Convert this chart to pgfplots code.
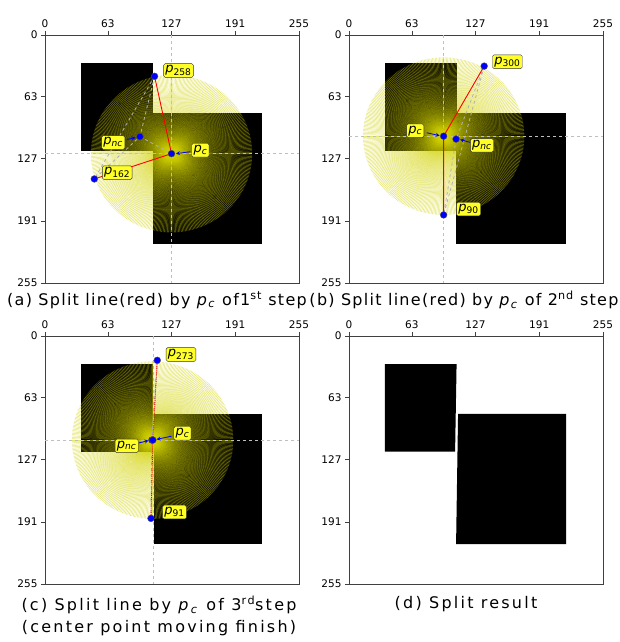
\documentclass[border=0pt]{standalone}
\usepackage{pgfplots}
\pgfplotsset{compat=1.18}
\usepackage{fontspec}
\setmainfont{DejaVu Sans}
\newfontfamily\capfont[LetterSpace=8]{DejaVu Sans}
\newfontfamily\capfontw[LetterSpace=14]{DejaVu Sans}
\definecolor{raycol}{rgb}{0.82,0.82,0.0}
\definecolor{labyel}{rgb}{1.0,1.0,0.15}
\definecolor{ptblue}{rgb}{0.0,0.0,1.0}
\pgfplotsset{panel/.style={
  width=254pt,height=248pt,scale only axis,
  xmin=0,xmax=255,ymin=0,ymax=255,y dir=reverse,
  xtick={0,63,127,191,255},ytick={0,63,127,191,255},
  xtick pos=upper,xticklabel pos=upper,ytick pos=left,
  tick align=outside,major tick length=4pt,
  axis line style={black!75},every tick/.style={black!75},
  ticklabel style={font=\fontsize{10.5}{12}\selectfont},
  /pgf/number format/assume math mode=true,
  clip=true, axis on top=false}}
\tikzset{
  lab/.style={fill=labyel,draw=black!80,rounded corners=1.5pt,inner sep=1.8pt,font=\fontsize{13}{14}\selectfont},
  ray/.style={draw=raycol,line width=0.5pt,opacity=0.55},
  arr/.style={-stealth,ptblue,line width=0.8pt},
  captext/.style={font=\capfont\fontsize{16}{18}\selectfont},
  captextw/.style={font=\capfontw\fontsize{16}{18}\selectfont}}
\newcommand{\fan}[2]{\pgfplotsinvokeforeach{0,...,359}{\draw[ray] (axis cs:#1,#2) -- (axis cs:{#1+81*cos(##1)},{#2+81*sin(##1)});}}
\newcommand{\pp}[1]{\textit{p}\textsubscript{#1}}
\begin{document}
\begin{tikzpicture}
\path[use as bounding box] (0,0) rectangle (619pt,-642pt);
% ---------------- (a)
\begin{axis}[panel,at={(45pt,-35pt)},anchor=north west]
\addplot[fill=black,draw=none] coordinates {(36,29) (108.5,29) (108.5,119) (36,119)} -- cycle;
\addplot[fill=black,draw=none] coordinates {(108,80.5) (218,80.5) (218,215) (108,215)} -- cycle;
\fan{127}{122}
\addplot[black!25,dashed,line width=0.5pt] coordinates {(127,0) (127,255)};
\addplot[black!25,dashed,line width=0.5pt] coordinates {(0,122) (255,122)};
\addplot[black!30,dashed,line width=0.8pt] coordinates {(110,42.5) (49.5,148)};
\addplot[black!30,dashed,line width=0.8pt] coordinates {(110,42.5) (95.3,104.5) (49.5,148)};
\addplot[black!30,dashed,line width=0.8pt] coordinates {(95.3,104.5) (127,122)};
\addplot[red,line width=0.9pt] coordinates {(110,42.5) (127,122) (49.5,148)};
\addplot[only marks,mark=*,mark size=3.4pt,mark options={fill=ptblue,draw=black!70}] coordinates {(110,42.5) (95.3,104.5) (127,122) (49.5,148)};
\draw[arr] (axis cs:146,120) -- (axis cs:131.5,122);
\draw[arr] (axis cs:82,107.5) -- (axis cs:91,105.5);
\node[lab] at (axis cs:134,36.5) {\pp{258}};
\node[lab] at (axis cs:156,118.5) {\pp{\textit{c}}};
\node[lab] at (axis cs:68.5,110.5) {\pp{\textit{nc}}};
\node[lab] at (axis cs:72.5,141.5) {\pp{162}};
\end{axis}
% ---------------- (b)
\begin{axis}[panel,at={(349pt,-35pt)},anchor=north west]
\addplot[fill=black,draw=none] coordinates {(36,29) (108.5,29) (108.5,119) (36,119)} -- cycle;
\addplot[fill=black,draw=none] coordinates {(107.5,80.5) (218,80.5) (218,215) (107.5,215)} -- cycle;
\fan{95}{104}
\addplot[black!25,dashed,line width=0.5pt] coordinates {(95,0) (95,255)};
\addplot[black!25,dashed,line width=0.5pt] coordinates {(0,104) (255,104)};
\addplot[black!30,dashed,line width=0.8pt] coordinates {(135.7,32) (95,185)};
\addplot[black!30,dashed,line width=0.8pt] coordinates {(135.7,32) (107.5,107) (95,185)};
\addplot[red,line width=0.9pt] coordinates {(135.7,32) (95,104) (95,185)};
\addplot[only marks,mark=*,mark size=3.4pt,mark options={fill=ptblue,draw=black!70}] coordinates {(135.7,32) (107.5,107) (95,104) (95,185)};
\draw[arr] (axis cs:78,100.5) -- (axis cs:91,103.5);
\draw[arr] (axis cs:122,110.5) -- (axis cs:111.5,107.5);
\node[lab] at (axis cs:159,27.5) {\pp{300}};
\node[lab] at (axis cs:66.5,98.5) {\pp{\textit{c}}};
\node[lab] at (axis cs:133.5,113.5) {\pp{\textit{nc}}};
\node[lab] at (axis cs:120,179) {\pp{90}};
\end{axis}
% ---------------- (c)
\begin{axis}[panel,at={(45pt,-336pt)},anchor=north west]
\addplot[fill=black,draw=none] coordinates {(36,29) (108,29) (108,119) (36,119)} -- cycle;
\addplot[fill=black,draw=none] coordinates {(109.5,80) (218,80) (218,214) (109.5,214)} -- cycle;
\fan{108}{107}
\addplot[black!25,dashed,line width=0.5pt] coordinates {(108.3,0) (108.3,255)};
\addplot[black!25,dashed,line width=0.5pt] coordinates {(0,107) (255,107)};
\addplot[black!35,dashed,line width=1pt] coordinates {(112.7,25) (107.3,107) (106.4,187.5)};
\addplot[red,densely dotted,line width=0.9pt] coordinates {(112.7,25) (108.3,107) (106.4,187.5)};
\addplot[only marks,mark=*,mark size=3.4pt,mark options={fill=ptblue,draw=black!70}] coordinates {(112.7,25) (107.3,107) (108.3,107) (106.4,187.5)};
\draw[arr] (axis cs:127,103) -- (axis cs:112,106.3);
\draw[arr] (axis cs:94,110) -- (axis cs:104,107.5);
\node[lab] at (axis cs:136.5,19) {\pp{273}};
\node[lab] at (axis cs:138,100) {\pp{\textit{c}}};
\node[lab] at (axis cs:82,113) {\pp{\textit{nc}}};
\node[lab] at (axis cs:130,181) {\pp{91}};
\end{axis}
% ---------------- (d)
\begin{axis}[panel,at={(349pt,-336pt)},anchor=north west]
\addplot[fill=black,draw=none] coordinates {(36,29) (108,29) (106.5,119) (36,119)} -- cycle;
\addplot[fill=black,draw=none] coordinates {(109.5,80) (218,80) (218,214) (107.5,214)} -- cycle;
\end{axis}
% captions
\node[captext] at (157pt,-300pt) {(a) Split line(red) by \pp{\textit{c}} of1\textsuperscript{st} step};
\node[captext] at (464pt,-300pt) {(b) Split line(red) by \pp{\textit{c}} of 2\textsuperscript{nd} step};
\node[captextw] at (159pt,-605pt) {(c) Split line by \pp{\textit{c}} of 3\textsuperscript{rd}step};
\node[captextw] at (159pt,-628pt) {(center point moving finish)};
\node[captextw] at (466pt,-604pt) {(d) Split result};
\end{tikzpicture}
\end{document}
